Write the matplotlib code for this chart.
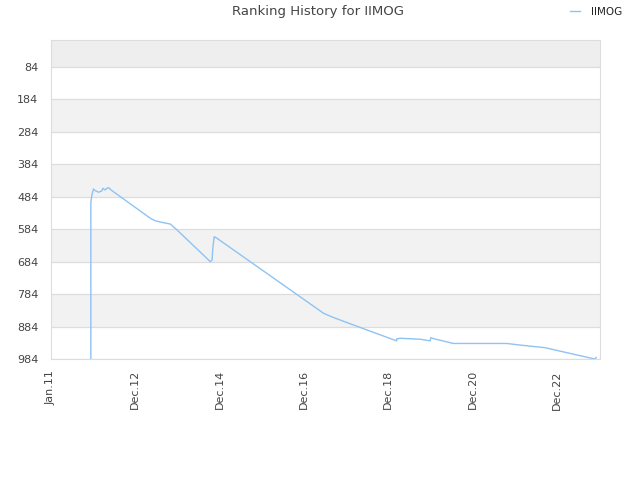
import matplotlib
matplotlib.use("Agg")
import matplotlib.pyplot as plt

# months since Jan 2011, ranking position
months = [10.43, 10.43, 10.72, 11.17, 11.66, 12.6, 13.56, 13.85, 14.5, 14.98, 15.44, 16.41,
          27.3, 28.7, 31.1, 33.0, 34.9, 44.4, 44.9, 45.1, 45.5, 46.3, 76.6,
          79.4, 85.1, 94.6, 97.4, 97.4, 98.4, 104.1, 106.9, 107.1, 107.8,
          113.5, 128.7, 132.5, 139.6, 144.8, 153.8, 154.1]
ranks = [984, 501, 479, 460, 465, 470, 466, 458, 463, 458, 456, 465,
         550, 558, 564, 568, 586, 684, 679, 643, 607, 612, 843,
         856, 879, 917, 928, 922, 920, 923, 928, 918, 921,
         936, 936, 941, 949, 962, 984, 979]

tick_pos = [-0.9, 23, 47, 71, 95, 119, 143]
tick_labels = ["Jan.11", "Dec.12", "Dec.14", "Dec.16", "Dec.18", "Dec.20", "Dec.22"]
y_ticks = [84, 184, 284, 384, 484, 584, 684, 784, 884, 984]

line_color = "#8ec3f3"
grid_color = "#dddddd"

fig = plt.figure(figsize=(6.4, 4.8), dpi=100)
ax = fig.add_axes([0.0797, 0.252, 0.8578, 0.6647])

ax.set_ylim(984, 1)
ax.set_xlim(-0.9, 155.2)

# alternating bands
ax.axhspan(1, 84, color="#eeeeee", zorder=0, lw=0)
for lo in range(184, 984, 200):
    ax.axhspan(lo, lo + 100, color="#f2f2f2", zorder=0, lw=0)
for y in y_ticks:
    ax.axhline(y, color=grid_color, lw=0.9, zorder=1)

ax.plot(months, ranks, color=line_color, lw=1.0, zorder=3, label="IIMOG")

ax.set_yticks(y_ticks)
ax.set_yticklabels([str(v) for v in y_ticks])
ax.set_xticks(tick_pos)
ax.set_xticklabels(tick_labels, rotation=90)
ax.tick_params(axis="both", labelsize=8, colors="#444444", length=0)
ax.tick_params(axis="x", pad=8)
ax.tick_params(axis="y", pad=9)
for s in ax.spines.values():
    s.set_color(grid_color)

fig.text(0.497, 0.975, "Ranking History for IIMOG", ha="center", va="center",
         fontsize=9.5, color="#444444")
leg = fig.legend(loc="center right", bbox_to_anchor=(0.98, 0.975), frameon=False,
                 fontsize=7.5, handlelength=1.0, handletextpad=1.0, borderpad=0)
for t in leg.get_texts():
    t.set_color("#222222")

fig.savefig("out.png", dpi=100)
